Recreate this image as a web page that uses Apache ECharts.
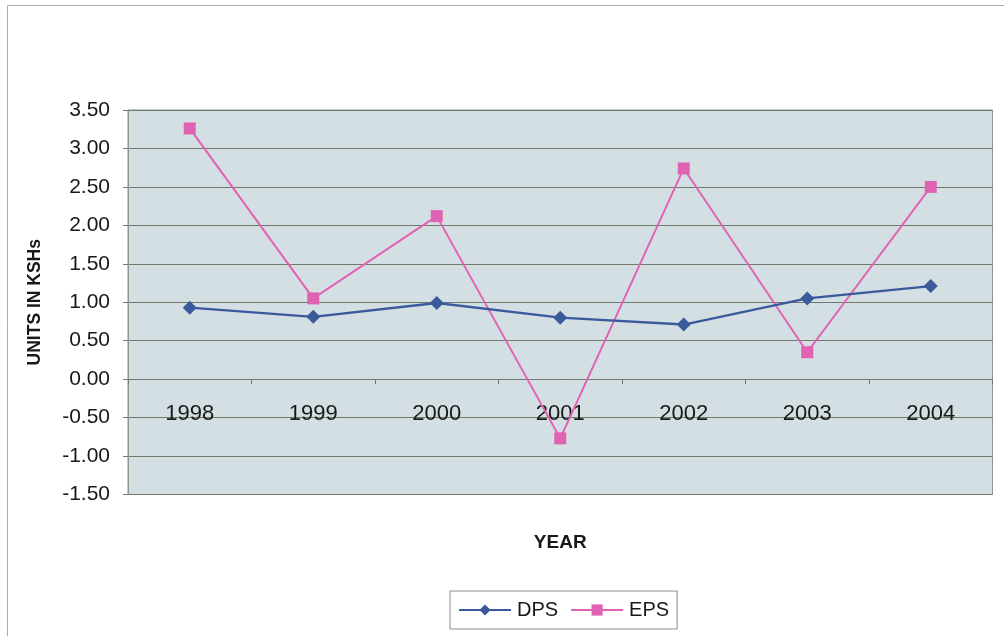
<!DOCTYPE html>
<html>
<head>
<meta charset="utf-8">
<title>DPS and EPS</title>
<script src="https://cdn.jsdelivr.net/npm/echarts@6/dist/echarts.min.js"></script>
<style>
  html, body { margin: 0; padding: 0; background: #ffffff; }
  #chart { width: 1004px; height: 636px; }
</style>
</head>
<body>
<div id="chart"></div>
<script>
// Per-share figures, KSh
const years = ['1998', '1999', '2000', '2001', '2002', '2003', '2004'];
const dps = [0.93, 0.81, 0.99, 0.80, 0.71, 1.05, 1.21];
const eps = [3.26, 1.05, 2.12, -0.77, 2.74, 0.35, 2.50];

const FONT = '"Liberation Sans", Arial, sans-serif';
const TEXT = '#181818';
const GRID_LINE = '#6f7a6c';

const chart = echarts.init(document.getElementById('chart'), null, { renderer: 'canvas' });

chart.setOption({
  animation: false,
  backgroundColor: '#ffffff',
  textStyle: { fontFamily: FONT },
  graphic: [{
    type: 'rect',
    shape: { x: 7.5, y: 5.5, width: 1100, height: 700 },
    style: { fill: 'none', stroke: '#a9adaf', lineWidth: 1 },
    silent: true
  }],
  grid: {
    left: 128, top: 110, width: 864.5, height: 384.5,
    containLabel: false,
    outerBoundsMode: 'none',
    show: true,
    backgroundColor: '#d4dfe4',
    borderColor: '#8e978c',
    borderWidth: 1
  },
  legend: {
    left: 450, top: 591, width: 233, height: 41,
    padding: [9, 8, 9, 8],
    itemGap: 12,
    itemWidth: 52, itemHeight: 14,
    borderColor: '#8a8d90', borderWidth: 1,
    backgroundColor: '#ffffff',
    textStyle: { fontFamily: FONT, fontSize: 20, color: TEXT, padding: [0, 0, 0, 1] },
    data: ['DPS', 'EPS']
  },
  xAxis: {
    type: 'category',
    data: years,
    boundaryGap: true,
    name: 'YEAR',
    nameLocation: 'middle',
    nameGap: 39,
    nameTextStyle: { fontFamily: FONT, fontSize: 19, fontWeight: 'bold', color: TEXT },
    axisLine: { onZero: true, lineStyle: { color: GRID_LINE, width: 1 } },
    axisTick: { show: true, inside: false, length: 5, alignWithLabel: false, lineStyle: { color: GRID_LINE } },
    // labels sit just under the zero line, inside the plot
    axisLabel: { fontFamily: FONT, fontSize: 22, color: TEXT, margin: -92 },
    splitLine: { show: false }
  },
  yAxis: {
    type: 'value',
    min: -1.5, max: 3.5, interval: 0.5,
    name: 'UNITS IN KSHs',
    nameLocation: 'middle',
    nameGap: 84,
    nameRotate: 90,
    nameTextStyle: { fontFamily: FONT, fontSize: 17.5, fontWeight: 'bold', color: TEXT },
    axisLine: { show: true, lineStyle: { color: '#8e978c' } },
    axisTick: { show: true, length: 5, lineStyle: { color: GRID_LINE } },
    axisLabel: {
      fontFamily: FONT, fontSize: 21, color: TEXT, margin: 18,
      formatter: v => v.toFixed(2)
    },
    splitLine: { show: true, lineStyle: { color: GRID_LINE, width: 1.2 } }
  },
  series: [
    {
      name: 'DPS',
      type: 'line',
      data: dps,
      symbol: 'diamond',
      symbolSize: 14,
      itemStyle: { color: '#3a5a9c' },
      lineStyle: { color: '#3a5a9c', width: 2.4 },
      z: 3
    },
    {
      name: 'EPS',
      type: 'line',
      data: eps,
      symbol: 'rect',
      symbolSize: 12,
      itemStyle: { color: '#e063b3' },
      lineStyle: { color: '#e063b3', width: 2 },
      z: 2
    }
  ]
});
</script>
</body>
</html>
